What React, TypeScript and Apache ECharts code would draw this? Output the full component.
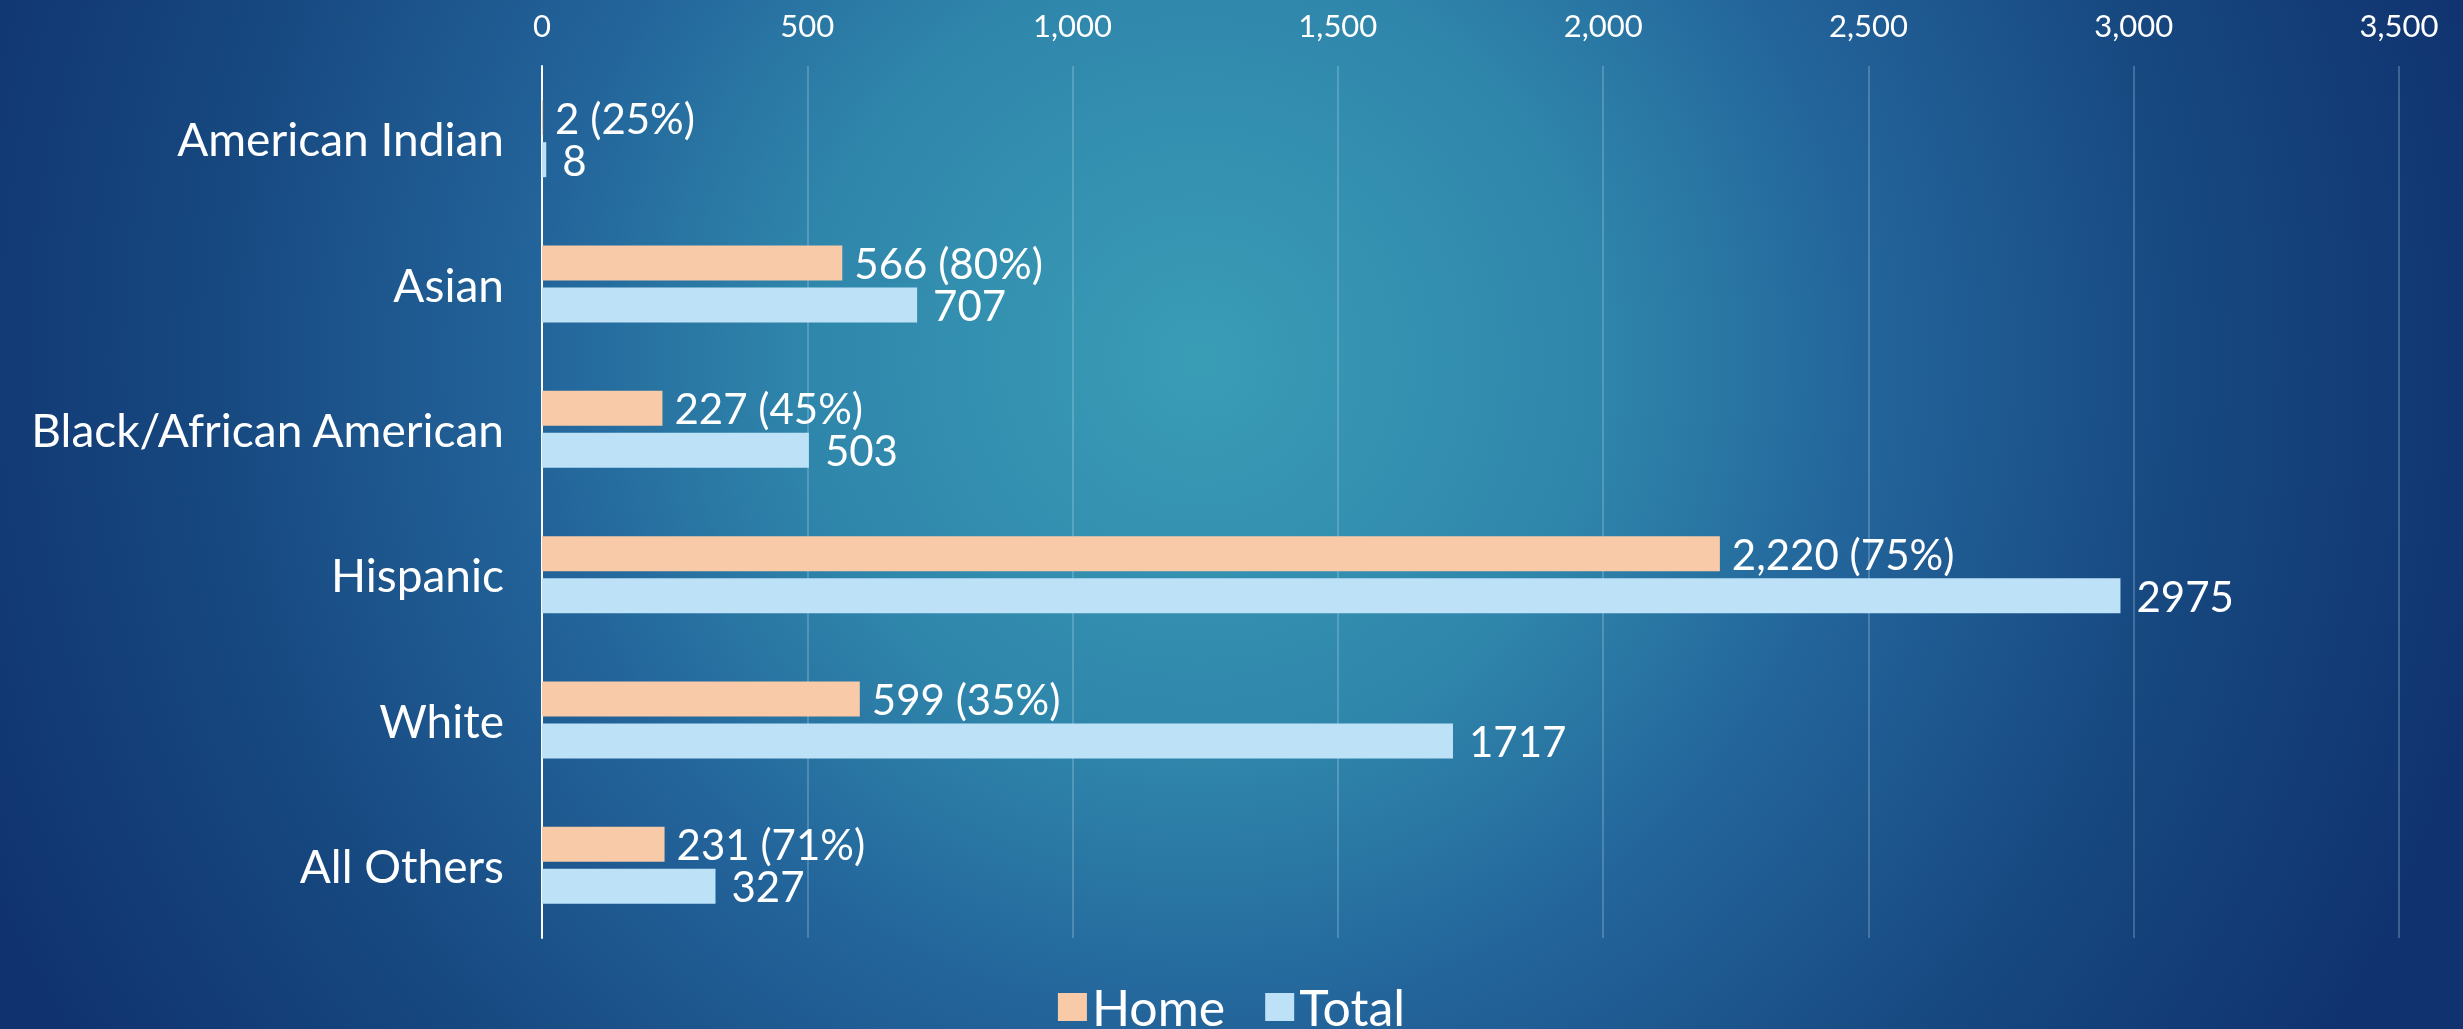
import React, { useEffect, useRef } from "react";
import * as echarts from "echarts";

const categories = ["American Indian", "Asian", "Black/African American", "Hispanic", "White", "All Others"];
const homeValues = [2, 566, 227, 2220, 599, 231];
const homePct = [25, 80, 45, 75, 35, 71];
const totalValues = [8, 707, 503, 2975, 1717, 327];
const xTicks = { min: 0, max: 3500, interval: 500 };
const seriesNames = ["Home", "Total"];

const FONT = "Lato, 'Open Sans', sans-serif";

export default function App() {
  const ref = useRef<HTMLDivElement>(null);
  useEffect(() => {
    document.body.style.margin = "0";
    const chart = echarts.init(ref.current!, null, { renderer: "svg" });
    const fmt = (v: number) => v.toLocaleString("en-US");
    chart.setOption({
      animation: false,
      backgroundColor: new echarts.graphic.RadialGradient(1200, 360, 1320, [
        { offset: 0, color: "#3a9db6" },
        { offset: 0.3, color: "#2f86ab" },
        { offset: 0.5, color: "#23659b" },
        { offset: 0.75, color: "#174880" },
        { offset: 1, color: "#10336f" },
      ], true),
      textStyle: { fontFamily: FONT },
      grid: { left: 542, right: 64, top: 66, bottom: 91, containLabel: false },
      legend: {
        data: seriesNames,
        bottom: -8,
        left: "center",
        itemWidth: 29,
        itemHeight: 28,
        itemGap: 40,
        icon: "rect",
        textStyle: { color: "#ffffff", fontSize: 50, fontFamily: FONT },
      },
      xAxis: {
        type: "value",
        position: "top",
        min: xTicks.min,
        max: xTicks.max,
        interval: xTicks.interval,
        axisLine: { show: false },
        axisTick: { show: false },
        axisLabel: { color: "#ffffff", fontSize: 31, margin: 26, formatter: (v: number) => fmt(v) },
        splitLine: { show: true, lineStyle: { color: "rgba(190,220,240,0.35)", width: 1.5 } },
      },
      yAxis: {
        type: "category",
        data: categories,
        inverse: true,
        axisLine: { show: true, lineStyle: { color: "#ffffff", width: 2 } },
        axisTick: { show: false },
        axisLabel: { color: "#ffffff", fontSize: 46, margin: 38 },
      },
      series: [
        {
          name: seriesNames[0],
          type: "bar",
          data: homeValues,
          barWidth: 35,
          barGap: "20%",
          itemStyle: { color: "#f8caa8" },
          label: {
            show: true,
            position: "right",
            distance: 12,
            color: "#ffffff",
            fontSize: 42,
            formatter: (p: any) => `${fmt(p.value)} (${homePct[p.dataIndex]}%)`,
          },
        },
        {
          name: seriesNames[1],
          type: "bar",
          data: totalValues,
          barWidth: 35,
          barGap: "20%",
          itemStyle: { color: "#bde2f8" },
          label: {
            show: true,
            position: "right",
            distance: 16,
            color: "#ffffff",
            fontSize: 42,
          },
        },
      ],
    });
    return () => chart.dispose();
  }, []);
  return <div ref={ref} style={{ position: "fixed", left: 0, top: 0, width: 2463, height: 1029 }} />;
}
